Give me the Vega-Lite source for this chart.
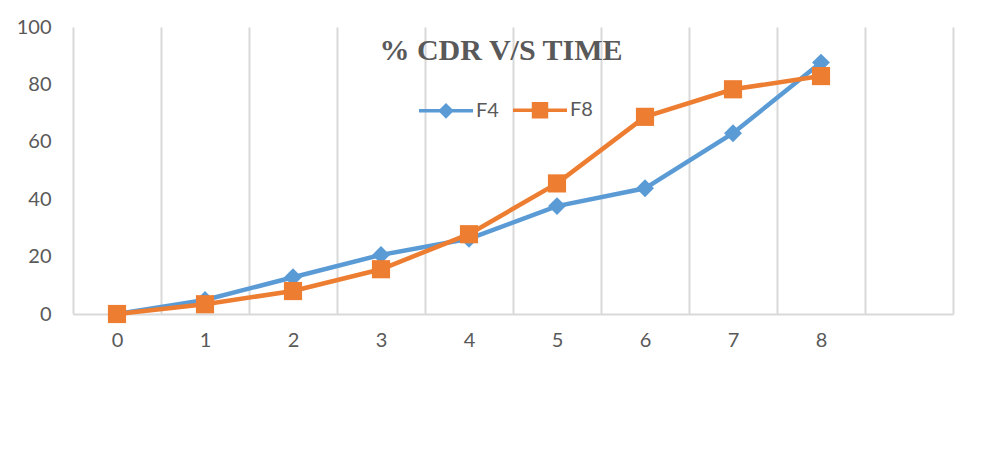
{
  "$schema": "https://vega.github.io/schema/vega-lite/v6.json",
  "autosize": {"type": "none"},
  "width": 880,
  "height": 287,
  "padding": {"left": 73, "top": 27, "right": 30, "bottom": 136},
  "background": "white",
  "title": {
    "text": "% CDR V/S TIME",
    "font": "Liberation Serif",
    "fontWeight": "bold",
    "fontSize": 30,
    "color": "#595959",
    "anchor": "middle",
    "baseline": "alphabetic",
    "offset": 0,
    "dy": 73,
    "dx": -12
  },
  "data": {
    "values": [
      {"time": 0, "cdr": 0, "series": "F4"},
      {"time": 1, "cdr": 4.9, "series": "F4"},
      {"time": 2, "cdr": 12.8, "series": "F4"},
      {"time": 3, "cdr": 20.6, "series": "F4"},
      {"time": 4, "cdr": 26.2, "series": "F4"},
      {"time": 5, "cdr": 37.6, "series": "F4"},
      {"time": 6, "cdr": 43.8, "series": "F4"},
      {"time": 7, "cdr": 63.0, "series": "F4"},
      {"time": 8, "cdr": 87.6, "series": "F4"},
      {"time": 0, "cdr": 0, "series": "F8"},
      {"time": 1, "cdr": 3.4, "series": "F8"},
      {"time": 2, "cdr": 8.0, "series": "F8"},
      {"time": 3, "cdr": 15.6, "series": "F8"},
      {"time": 4, "cdr": 27.8, "series": "F8"},
      {"time": 5, "cdr": 45.5, "series": "F8"},
      {"time": 6, "cdr": 68.7, "series": "F8"},
      {"time": 7, "cdr": 78.3, "series": "F8"},
      {"time": 8, "cdr": 82.9, "series": "F8"}
    ]
  },
  "encoding": {
    "x": {
      "field": "time",
      "type": "ordinal",
      "scale": {"type": "band", "domain": [0, 1, 2, 3, 4, 5, 6, 7, 8, 9], "paddingInner": 0, "paddingOuter": 0},
      "axis": {
        "title": null,
        "labelAngle": 0,
        "labelExpr": "datum.value == 9 ? '' : datum.label",
        "tickBand": "extent",
        "ticks": false,
        "grid": true,
        "gridColor": "#D9D9D9",
        "gridWidth": 2,
        "domainColor": "#D9D9D9",
        "domainWidth": 2,
        "labelFont": "Lato",
        "labelFontSize": 20,
        "labelColor": "#595959",
        "labelPadding": 16
      }
    },
    "y": {
      "field": "cdr",
      "type": "quantitative",
      "scale": {"domain": [0, 100], "nice": false},
      "axis": {
        "title": null,
        "values": [0, 20, 40, 60, 80, 100],
        "grid": false,
        "domain": false,
        "ticks": false,
        "labelFont": "Lato",
        "labelFontSize": 20,
        "labelColor": "#595959",
        "labelPadding": 22
      }
    },
    "color": {
      "field": "series",
      "type": "nominal",
      "scale": {"domain": ["F4", "F8"], "range": ["#5B9BD5", "#ED7D31"]},
      "legend": {
        "title": null,
        "orient": "none",
        "direction": "horizontal",
        "legendX": 344,
        "legendY": 54,
        "padding": 0,
        "symbolType": "M-1,0H1M0,-0.2L0.2,0L0,0.2L-0.2,0Z",
        "symbolSize": 2916,
        "symbolStrokeWidth": 3.5,
        "labelFont": "Lato",
        "labelFontSize": 20,
        "labelColor": "#595959",
        "labelOffset": 1,
        "columnPadding": 7,
        "encode": {
          "symbols": {
            "update": {
              "shape": {"signal": "datum.value === 'F4' ? 'M-1,0H1M0,-0.2L0.2,0L0,0.2L-0.2,0Z' : 'M-1,0H1M-0.24,-0.24H0.24V0.24H-0.24Z'"},
              "size": {"value": 2916},
              "strokeWidth": {"value": 3.5},
              "fill": {"signal": "datum.value === 'F4' ? '#5B9BD5' : '#ED7D31'"},
              "stroke": {"signal": "datum.value === 'F4' ? '#5B9BD5' : '#ED7D31'"},
              "opacity": {"value": 1},
              "fillOpacity": {"value": 1},
              "strokeOpacity": {"value": 1}
            }
          }
        }
      }
    }
  },
  "layer": [
    {
      "mark": {"type": "line", "strokeWidth": 4.5}
    },
    {
      "transform": [{"filter": "datum.series === 'F4'"}],
      "mark": {"type": "point", "shape": "diamond", "size": 320, "filled": true, "opacity": 1}
    },
    {
      "transform": [{"filter": "datum.series === 'F8'"}],
      "mark": {"type": "point", "shape": "square", "size": 330, "filled": true, "opacity": 1}
    }
  ],
  "config": {
    "view": {"stroke": null}
  }
}
